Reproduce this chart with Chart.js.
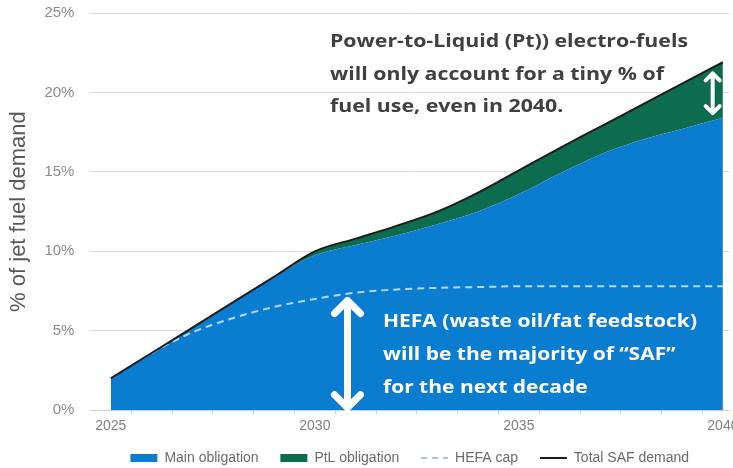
<!DOCTYPE html>
<html>
<head>
<meta charset="utf-8">
<script src="https://cdn.jsdelivr.net/npm/chart.js@4.4.1/dist/chart.umd.min.js"></script>
<style>
  html, body { margin: 0; padding: 0; background: #fff; }
  #wrap { width: 733px; height: 468px; position: relative; overflow: hidden; }
  #inner { position: absolute; left: 0; top: -12px; width: 733px; height: 487px; }
</style>
</head>
<body>
<div id="wrap"><div id="inner"><canvas id="safChart"></canvas></div></div>
<script>
// Values (% of jet fuel demand)
const years = [2025, 2026, 2027, 2028, 2029, 2030, 2031, 2032, 2033, 2034, 2035, 2036, 2037, 2038, 2039, 2040];
const mainObligation = [2.0, 3.6, 5.2, 6.8, 8.4, 9.75, 10.4, 11.0, 11.7, 12.5, 13.6, 14.9, 16.1, 17.0, 17.7, 18.4];
const ptlObligation = [0, 0, 0, 0, 0, 0.25, 0.4, 0.6, 0.8, 1.2, 1.5, 1.6, 1.75, 2.2, 2.85, 3.5];
const hefaCap = [2.0, 3.6, 4.9, 5.8, 6.5, 7.0, 7.4, 7.6, 7.7, 7.75, 7.8, 7.8, 7.8, 7.8, 7.8, 7.8];
const totalSafDemand = [2.0, 3.6, 5.2, 6.8, 8.4, 10.0, 10.8, 11.6, 12.5, 13.7, 15.1, 16.5, 17.85, 19.2, 20.55, 21.9];
const yTicks = [0, 5, 10, 15, 20, 25];
const xLabelYears = [2025, 2030, 2035, 2040];

const X_MIN = 2024.5;
const X_MAX = 2040.15;

const toPoints = arr => arr.map((v, i) => ({ x: years[i], y: v }));
// legend order by dataset index: total(0), hefa(1), main(2), ptl(3)
const legendRank = [3, 2, 0, 1];

// White double-headed arrow with chevron heads
function drawArrow(ctx, x, yTop, yBottom, width, head) {
  ctx.save();
  ctx.strokeStyle = '#ffffff';
  ctx.lineWidth = width;
  ctx.lineCap = 'round';
  ctx.lineJoin = 'round';
  ctx.beginPath();
  ctx.moveTo(x, yTop + 2);
  ctx.lineTo(x, yBottom - 2);
  ctx.moveTo(x - head, yTop + head);
  ctx.lineTo(x, yTop);
  ctx.lineTo(x + head, yTop + head);
  ctx.moveTo(x - head, yBottom - head);
  ctx.lineTo(x, yBottom);
  ctx.lineTo(x + head, yBottom - head);
  ctx.stroke();
  ctx.restore();
}

// Draw a block of lines, stretched so that the first line has the given width
function drawBlock(ctx, lines, x, y, lineGap, firstWidth, color) {
  ctx.save();
  ctx.font = 'bold 18px "Open Sans"';
  ctx.fillStyle = color;
  ctx.textBaseline = 'middle';
  ctx.textAlign = 'left';
  const k = firstWidth / ctx.measureText(lines[0]).width;
  ctx.translate(x, y);
  ctx.scale(k, 1);
  lines.forEach((line, i) => ctx.fillText(line, 0, i * lineGap));
  ctx.restore();
}

// canvas is shifted up by 12px inside the page, so page y + 12 = canvas y
const SHIFT = 12;

const annotations = {
  id: 'annotations',
  afterDatasetsDraw(chart) {
    const { ctx, scales: { x, y } } = chart;
    drawBlock(ctx, ['Power-to-Liquid (Pt)) electro-fuels', 'will only account for a tiny % of', 'fuel use, even in 2040.'],
      330, 42 + SHIFT, 32.5, 358, '#404040');
    drawBlock(ctx, ['HEFA (waste oil/fat feedstock)', 'will be the majority of \u201cSAF\u201d', 'for the next decade'],
      383, 322 + SHIFT, 33, 314, '#ffffff');

    drawArrow(ctx, x.getPixelForValue(2030.8), y.getPixelForValue(6.9), y.getPixelForValue(0.15), 7, 13);
    drawArrow(ctx, x.getPixelForValue(2039.75), y.getPixelForValue(21.2), y.getPixelForValue(18.7), 4, 7);
  }
};

new Chart(document.getElementById('safChart'), {
  type: 'line',
  data: {
    // listed top layer first: Chart.js draws the last dataset first
    datasets: [
      {
        label: 'Total SAF demand',
        data: toPoints(totalSafDemand),
        stack: 'total',
        borderColor: '#1c1c1c',
        backgroundColor: '#1c1c1c',
        borderWidth: 2,
        fill: false
      },
      {
        label: 'HEFA cap',
        data: toPoints(hefaCap),
        stack: 'hefa',
        borderColor: '#b5d9f2',
        backgroundColor: '#b5d9f2',
        borderWidth: 2,
        borderDash: [7, 5],
        fill: false
      },
      {
        label: 'Main obligation',
        data: toPoints(mainObligation),
        stack: 'saf',
        backgroundColor: '#0a7dd1',
        borderColor: '#0a7dd1',
        borderWidth: 0,
        fill: 'origin'
      },
      {
        label: 'PtL obligation',
        data: toPoints(ptlObligation),
        stack: 'saf',
        backgroundColor: '#0d6b4e',
        borderColor: '#0d6b4e',
        borderWidth: 0,
        fill: '-1'
      }
    ]
  },
  options: {
    responsive: true,
    maintainAspectRatio: false,
    animation: false,
    layout: { padding: { top: 0, right: 0, left: 6, bottom: 0 } },
    elements: {
      point: { radius: 0, hoverRadius: 0 },
      line: { cubicInterpolationMode: 'monotone' }
    },
    scales: {
      x: {
        type: 'linear',
        min: X_MIN,
        max: X_MAX,
        afterBuildTicks: axis => {
          // half-year minor ticks; the last (unlabelled) tick sits on the right edge
          const ticks = [];
          for (let v = 2025; v <= 2040; v += 0.5) ticks.push({ value: v });
          ticks.push({ value: X_MAX });
          axis.ticks = ticks;
        },
        ticks: {
          autoSkip: false,
          maxRotation: 0,
          padding: 4,
          color: '#808080',
          font: { family: 'Liberation Sans', size: 14 },
          callback: v => xLabelYears.includes(v) ? String(v) : ''
        },
        grid: {
          drawOnChartArea: false,
          tickLength: 4,
          tickColor: c => (c.tick && (c.tick.value * 2) % 2 === 1) ? '#cfcfcf' : 'transparent'
        },
        border: { color: '#d0d0d0', width: 1 }
      },
      y: {
        stacked: true,
        min: 0,
        max: 25,
        afterBuildTicks: axis => { axis.ticks = yTicks.map(v => ({ value: v })); },
        ticks: {
          padding: 16,
          color: '#8c8c8c',
          font: { family: 'Liberation Sans', size: 15 },
          callback: v => v + '%'
        },
        grid: { color: '#d9d9d9', drawTicks: false },
        border: { display: false },
        title: {
          display: true,
          text: '% of jet fuel demand',
          color: '#595959',
          font: { family: 'Liberation Sans', size: 22 },
          padding: { top: 0, bottom: -4 }
        }
      }
    },
    plugins: {
      tooltip: { enabled: false },
      legend: {
        position: 'bottom',
        fullSize: false,
        labels: {
          usePointStyle: true,
          pointStyleWidth: 27,
          boxHeight: 8,
          padding: 12,
          color: '#6b6b6b',
          font: { family: 'Liberation Sans', size: 14 },
          sort: (a, b) => legendRank[a.datasetIndex] - legendRank[b.datasetIndex],
          generateLabels: chart => {
            const items = Chart.defaults.plugins.legend.labels.generateLabels(chart);
            items.forEach(item => {
              const isArea = item.datasetIndex >= 2;
              item.pointStyle = isArea ? 'rect' : 'line';
              item.lineWidth = isArea ? 0 : 2;
              if (item.datasetIndex === 1) {
                item.strokeStyle = '#a9c3da';
                item.lineDash = [6, 5];
              }
              // widen the gap after each entry (padding is kept small for the vertical spacing)
              if (item.datasetIndex !== 0) item.text += '\u2002\u2009';
            });
            return items;
          }
        }
      }
    }
  },
  plugins: [annotations]
});
</script>
</body>
</html>
